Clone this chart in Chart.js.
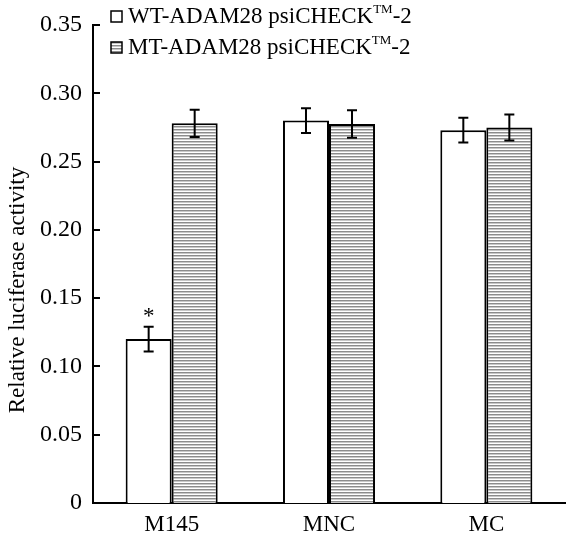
<!DOCTYPE html>
<html>
<head>
<meta charset="utf-8">
<script src="https://cdn.jsdelivr.net/npm/chart.js@4/dist/chart.umd.min.js"></script>
<style>
  html, body { margin: 0; padding: 0; background: #fff; }
  #box { width: 567px; height: 536px; }
</style>
</head>
<body>
<div id="box"><canvas id="myChart"></canvas></div>
<script>
'use strict';

let categories = ['M145', 'MNC', 'MC'];
let wtValues = [0.120, 0.280, 0.273];
let wtErrors = [0.009, 0.009, 0.009];
let mtValues = [0.278, 0.2775, 0.275];
let mtErrors = [0.010, 0.010, 0.0095];
let yTicks = [0, 0.05, 0.10, 0.15, 0.20, 0.25, 0.30, 0.35];
let yTitle = 'Relative luciferase activity';
let legendNames = ['WT-ADAM28 psiCHECK', 'MT-ADAM28 psiCHECK'];
let starred = [[0, 0]]; // dataset, index

let font = '"Liberation Serif", "Times New Roman", serif';

function makeStripes() {
    let c = document.createElement('canvas');
    c.width = 4;
    c.height = 3;
    let g = c.getContext('2d');
    g.fillStyle = '#fff';
    g.fillRect(0, 0, 4, 3);
    g.fillStyle = '#8c8c8c';
    g.fillRect(0, 0, 4, 1);
    g.fillStyle = '#c8c8c8';
    g.fillRect(0, 1, 4, 1);
    return g.createPattern(c, 'repeat');
}

let stripes = makeStripes();
let errors = [wtErrors, mtErrors];
let values = [wtValues, mtValues];

let extras = {
    id: 'extras',
    afterDatasetsDraw(chart) {
        let ctx = chart.ctx;
        let y = chart.scales.y;
        let area = chart.chartArea;
        ctx.save();
        ctx.strokeStyle = '#000';
        ctx.lineWidth = 2;

        // inward ticks on y axis
        yTicks.forEach(function (v) {
            let py = Math.round(y.getPixelForValue(v));
            ctx.beginPath();
            ctx.moveTo(area.left, py);
            ctx.lineTo(area.left + 7, py);
            ctx.stroke();
        });

        // error bars
        for (let d = 0; d < 2; d++) {
            let meta = chart.getDatasetMeta(d);
            meta.data.forEach(function (bar, i) {
                let top = y.getPixelForValue(values[d][i] + errors[d][i]);
                let bot = y.getPixelForValue(values[d][i] - errors[d][i]);
                ctx.beginPath();
                ctx.moveTo(bar.x, top);
                ctx.lineTo(bar.x, bot);
                ctx.moveTo(bar.x - 5, top);
                ctx.lineTo(bar.x + 5, top);
                ctx.moveTo(bar.x - 5, bot);
                ctx.lineTo(bar.x + 5, bot);
                ctx.stroke();
            });
        }

        // significance star
        ctx.fillStyle = '#000';
        ctx.font = '23px ' + font;
        ctx.textAlign = 'center';
        ctx.textBaseline = 'alphabetic';
        starred.forEach(function (s) {
            let bar = chart.getDatasetMeta(s[0]).data[s[1]];
            let top = y.getPixelForValue(values[s[0]][s[1]] + errors[s[0]][s[1]]);
            ctx.fillText('*', bar.x, top - 4);
        });

        // y axis title
        ctx.save();
        ctx.translate(18, 290);
        ctx.rotate(-Math.PI / 2);
        ctx.textBaseline = 'middle';
        ctx.font = '23px ' + font;
        ctx.fillText(yTitle, 0, 0);
        ctx.restore();

        // legend
        ctx.textAlign = 'left';
        ctx.textBaseline = 'middle';
        let lx = area.left + 18;
        let rows = [17, 48];
        let fills = ['#fff', stripes];
        for (let k = 0; k < 2; k++) {
            let ly = rows[k];
            ctx.fillStyle = fills[k];
            ctx.fillRect(lx, ly - 6, 11, 11);
            ctx.lineWidth = 1.5;
            ctx.strokeStyle = '#000';
            ctx.strokeRect(lx, ly - 6, 11, 11);
            ctx.fillStyle = '#000';
            ctx.font = '23px ' + font;
            let tx = lx + 17;
            ctx.fillText(legendNames[k], tx, ly);
            tx += ctx.measureText(legendNames[k]).width;
            ctx.font = '13px ' + font;
            ctx.fillText('TM', tx, ly - 7);
            tx += ctx.measureText('TM').width;
            ctx.font = '23px ' + font;
            ctx.fillText('-2', tx, ly);
        }
        ctx.restore();
    }
};

let ctx = document.getElementById('myChart').getContext('2d');

let chart = new Chart(ctx, {
    type: 'bar',
    data: {
        labels: categories,
        datasets: [
            {
                label: 'WT',
                data: wtValues,
                backgroundColor: '#fff',
                borderColor: '#000',
                borderWidth: 2,
                borderSkipped: 'bottom'
            },
            {
                label: 'MT',
                data: mtValues,
                backgroundColor: stripes,
                borderColor: '#000',
                borderWidth: 2,
                borderSkipped: 'bottom'
            }
        ]
    },
    options: {
        responsive: true,
        maintainAspectRatio: false,
        animation: false,
        layout: { padding: { top: 25, right: 2, left: 0, bottom: 0 } },
        plugins: {
            legend: { display: false },
            tooltip: { enabled: false }
        },
        datasets: {
            bar: { categoryPercentage: 0.585, barPercentage: 1 }
        },
        scales: {
            x: {
                grid: { display: false },
                border: { color: '#000', width: 2 },
                ticks: {
                    color: '#000',
                    font: { family: font, size: 23 },
                    padding: 0
                },
                afterFit(scale) { scale.height = 33; }
            },
            y: {
                min: 0,
                max: 0.35,
                grid: { display: false },
                border: { color: '#000', width: 2 },
                afterBuildTicks(scale) {
                    scale.ticks = yTicks.map(function (v) { return { value: v }; });
                },
                ticks: {
                    color: '#000',
                    font: { family: font, size: 24 },
                    padding: 3,
                    callback: function (v) { return v === 0 ? '0' : v.toFixed(2); }
                },
                afterFit(scale) { scale.width = 93; }
            }
        }
    },
    plugins: [extras]
});
</script>
</body>
</html>
